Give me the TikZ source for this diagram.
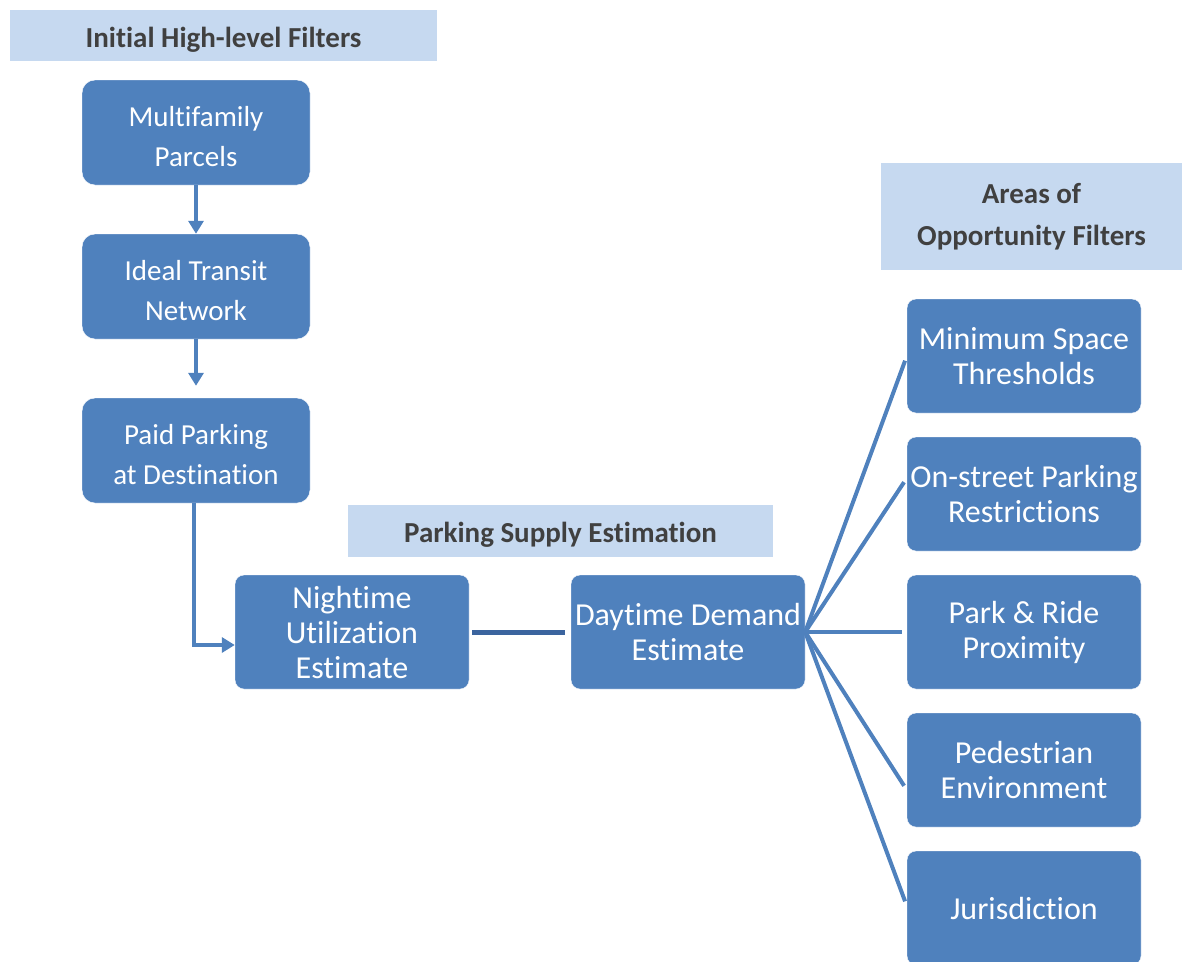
\documentclass[tikz,border=0pt]{standalone}
\usepackage{fontspec}
\setmainfont{Carlito}[Ligatures=NoCommon]
\usetikzlibrary{arrows.meta}
\definecolor{boxblue}{RGB}{79,129,189}
\definecolor{headblue}{RGB}{198,217,240}
\definecolor{headtext}{RGB}{64,64,64}
\definecolor{linkblue}{RGB}{59,100,158}
\begin{document}
\begin{tikzpicture}[x=1pt, y=-1pt,
    header/.style={fill=headblue, text=headtext, align=center, inner sep=0pt,
      font=\fontsize{29}{42}\selectfont\bfseries},
    lowtext/.style={text height=29pt, text depth=6pt},
    filterbox/.style={fill=boxblue, draw=white, thin, rounded corners=13pt, text=white,
      align=center, inner sep=0pt, minimum width=228pt, minimum height=105pt,
      font=\fontsize{29}{40}\selectfont},
    areabox/.style={fill=boxblue, draw=white, thin, rounded corners=9pt, text=white,
      align=center, inner sep=0pt, minimum width=234pt, minimum height=114pt,
      font=\fontsize{32}{35}\selectfont},
    flow/.style={draw=boxblue, line width=3.5pt, -{Triangle[width=15pt,length=13pt]}},
    fan/.style={draw=boxblue, line width=4pt}]
  \useasboundingbox (0,0) rectangle (1182,961);

  % headers
  \node[header, lowtext, minimum width=427pt, minimum height=51pt] (initial) at (223.5,35.5) {Initial High-level Filters};
  \node[header, lowtext, minimum width=425pt, minimum height=52pt] (supply) at (560.5,531) {Parking Supply Estimation};
  \node[header, minimum width=301pt, minimum height=107pt] (areas) at (1031.5,216.5) {Areas of\\Opportunity Filters};

  % initial filters
  \node[filterbox] (multi) at (196,132.5) {\rule{0pt}{29pt}Multifamily\\Parcels};
  \node[filterbox] (ideal) at (196,286.5) {\rule{0pt}{29pt}Ideal Transit\\Network};
  \node[filterbox] (paid)  at (196,450.5) {\rule{0pt}{29pt}Paid Parking\\at Destination};

  % supply estimation
  \node[areabox] (night) at (352,632) {Nightime\\Utilization\\Estimate};
  \node[areabox] (day)   at (688,632) {Daytime Demand\\Estimate};

  % opportunity filters
  \node[areabox] (space)   at (1024,356) {Minimum Space\\Thresholds};
  \node[areabox] (street)  at (1024,494) {On-street Parking\\Restrictions};
  \node[areabox] (ride)    at (1024,632) {Park \& Ride\\Proximity};
  \node[areabox] (walk)    at (1024,770) {Pedestrian\\Environment};
  \node[areabox] (juris)   at (1024,908) {Jurisdiction};

  \draw[flow] (multi) -- (ideal);
  \draw[flow, shorten >=12pt] (ideal) -- (paid);
  \draw[flow] ([xshift=-2pt]paid.south) |- ([yshift=-13pt]night.west);
  \draw[linkblue, line width=5pt, shorten <=3pt, shorten >=6pt] (night.east) -- (day.west);

  \coordinate (hub) at (day.east);
  \draw[fan, shorten >=5pt] (hub) -- (space.west);
  \draw[fan, shorten >=5pt] (hub) -- ([yshift=16pt]street.west);
  \draw[fan, shorten >=5pt] (hub) -- (ride.west);
  \draw[fan, shorten >=5pt] (hub) -- ([yshift=-20pt]walk.west);
  \draw[fan, shorten >=5pt] (hub) -- ([yshift=2pt]juris.west);
\end{tikzpicture}
\end{document}
